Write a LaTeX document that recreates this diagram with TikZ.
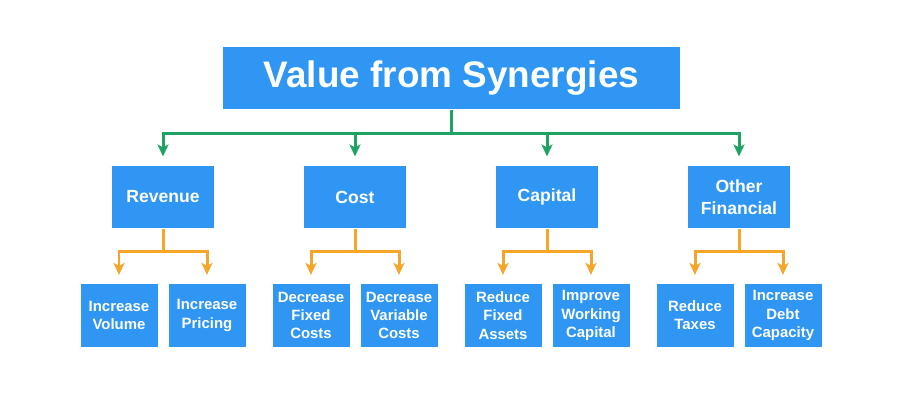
\documentclass[tikz,border=0pt]{standalone}
\usepackage{fontspec}
\setmainfont{Liberation Sans}
\usepackage{tikz}
\usetikzlibrary{positioning}
\usetikzlibrary{calc,arrows.meta}

\definecolor{boxblue}{RGB}{47,150,243}
\definecolor{linegreen}{RGB}{30,163,98}
\definecolor{lineorange}{RGB}{245,166,40}

\tikzset{
	titlebox/.style={fill=boxblue, text=white, minimum width=9.14cm, minimum height=1.25cm, inner sep=0pt, font=\fontsize{21}{25}\selectfont\bfseries},
	groupbox/.style={fill=boxblue, text=white, minimum width=2.04cm, minimum height=1.25cm, inner sep=0pt, align=center, font=\fontsize{10}{12.7}\selectfont\bfseries},
	leafbox/.style={fill=boxblue, text=white, minimum width=1.54cm, minimum height=1.25cm, inner sep=0pt, align=center, font=\fontsize{8.5}{10.4}\selectfont\bfseries},
	greenline/.style={draw=linegreen, line width=0.06cm},
	orangeline/.style={draw=lineorange, line width=0.06cm},
	tip/.style={-{Stealth[length=0.24cm,width=0.22cm,inset=0.06cm]}, shorten >=0.18cm},
}

\begin{document}
\begin{tikzpicture}
	
	% ------------------------------------------------
	% Ensure the dimensions of graphic are appropriate
	\useasboundingbox (0,0) rectangle (18,-8.04);
	
	% ------------------------------------------------
	% Relevant coordinates
	\coordinate (TitlePos) at (9.03,-1.56);
	\path (TitlePos) +(0,-1.10cm) coordinate (GreenHub);
	
	\coordinate (RevPos) at (3.26,-3.94);
	\path (RevPos) +(3.84cm,0) coordinate (CostPos);
	\path (CostPos) +(3.84cm,0) coordinate (CapPos);
	\path (CapPos) +(3.84cm,0) coordinate (OthPos);
	
	\path (RevPos)  +(0,-1.09cm) coordinate (RevHub);
	\path (CostPos) +(0,-1.09cm) coordinate (CostHub);
	\path (CapPos)  +(0,-1.09cm) coordinate (CapHub);
	\path (OthPos)  +(0,-1.09cm) coordinate (OthHub);
	
	% ----------------
	% Boxes
	\node[titlebox] (Title) at (TitlePos) {Value from Synergies};
	
	\node[groupbox] (Revenue) at (RevPos) {Revenue};
	\node[groupbox] (Cost) at (CostPos) {Cost};
	\node[groupbox] (Capital) at (CapPos) {Capital};
	\node[groupbox] (Other) at (OthPos) {Other\\Financial};
	
	\node[leafbox] (IncVol) at ($(RevPos)+(-0.88cm,-2.37cm)$) {Increase\\Volume};
	\node[leafbox] (IncPri) at ($(RevPos)+(0.88cm,-2.37cm)$) {Increase\\Pricing};
	\node[leafbox] (DecFix) at ($(CostPos)+(-0.88cm,-2.37cm)$) {Decrease\\Fixed\\Costs};
	\node[leafbox] (DecVar) at ($(CostPos)+(0.88cm,-2.37cm)$) {Decrease\\Variable\\Costs};
	\node[leafbox] (RedAss) at ($(CapPos)+(-0.88cm,-2.37cm)$) {Reduce\\Fixed\\Assets};
	\node[leafbox] (ImpCap) at ($(CapPos)+(0.88cm,-2.37cm)$) {Improve\\Working\\Capital};
	\node[leafbox] (RedTax) at ($(OthPos)+(-0.88cm,-2.37cm)$) {Reduce\\Taxes};
	\node[leafbox] (IncDebt) at ($(OthPos)+(0.88cm,-2.37cm)$) {Increase\\Debt\\Capacity};
	
	%%%%%%%%%%%%%%%%%%%%%%%%%%%%%%%%%%%%%%%%%
	% Green connectors
	\draw[greenline] (Title.south) -- (GreenHub);
	\draw[greenline, tip] (GreenHub) -| (Revenue.north);
	\draw[greenline, tip] (GreenHub) -| (Cost.north);
	\draw[greenline, tip] (GreenHub) -| (Capital.north);
	\draw[greenline, tip] (GreenHub) -| (Other.north);
	
	% Orange connectors
	\draw[orangeline] (Revenue.south) -- (RevHub);
	\draw[orangeline, tip] (RevHub) -| (IncVol.north);
	\draw[orangeline, tip] (RevHub) -| (IncPri.north);
	
	\draw[orangeline] (Cost.south) -- (CostHub);
	\draw[orangeline, tip] (CostHub) -| (DecFix.north);
	\draw[orangeline, tip] (CostHub) -| (DecVar.north);
	
	\draw[orangeline] (Capital.south) -- (CapHub);
	\draw[orangeline, tip] (CapHub) -| (RedAss.north);
	\draw[orangeline, tip] (CapHub) -| (ImpCap.north);
	
	\draw[orangeline] (Other.south) -- (OthHub);
	\draw[orangeline, tip] (OthHub) -| (RedTax.north);
	\draw[orangeline, tip] (OthHub) -| (IncDebt.north);
	
\end{tikzpicture}
\end{document}
